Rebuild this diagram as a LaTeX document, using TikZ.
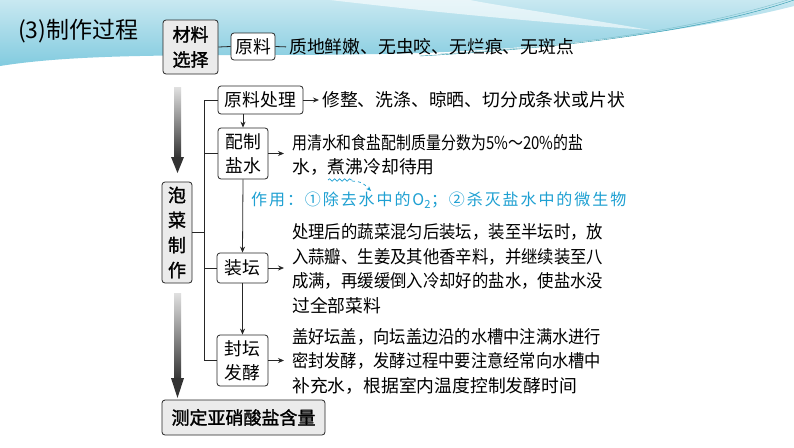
\documentclass[tikz,border=0pt]{standalone}
\usepackage{fontspec}
\usepackage{graphicx}
\usetikzlibrary{positioning,arrows.meta,decorations.pathmorphing}
\setmainfont{Noto Sans CJK SC}
\newfontfamily\boxfont{Noto Sans CJK SC}[FakeBold=1.5]
\newfontfamily\notefont{Noto Sans CJK SC}[LetterSpace=12]
\definecolor{notecol}{RGB}{30,160,210}
\definecolor{skytop}{RGB}{200,232,241}
\definecolor{skybot}{RGB}{130,203,223}
\definecolor{seaLine}{RGB}{40,150,170}
\newcommand\fline[2]{\resizebox{#1}{\height}{#2}}

\tikzset{
  headbox/.style={draw=black!85, fill=black!8, rounded corners=3pt, line width=0.8pt,
    inner sep=0pt, align=center, font=\boxfont\fontsize{18}{25}\selectfont},
  stagebox/.style={draw=black!85, fill=white, rounded corners=3pt, line width=0.8pt,
    inner sep=0pt, align=center, font=\fontsize{17.8}{24}\selectfont},
  desc/.style={anchor=west, inner sep=0pt, align=left, font=\fontsize{17.8}{24.5}\selectfont},
  note/.style={anchor=west, inner sep=0pt, text=notecol, font=\notefont\fontsize{16}{16}\selectfont},
  link/.style={line width=0.8pt, black!85},
  arr/.style={link, -{Stealth[length=6pt,width=5pt]}},
  bigarrow/.style={top color=black!12, bottom color=black!80},
}

\begin{document}
\begin{tikzpicture}[x=1pt,y=-1pt]
	\useasboundingbox (0,0) rectangle (794,447);
	\fill[white] (0,0) rectangle (794,447);

	% Header band
	\shade[top color=skytop, bottom color=skybot] (0,0) -- (794,0) -- (794,6)
		.. controls (700,30) and (560,48) .. (420,53)
		.. controls (250,58) and (100,50) .. (0,66) -- cycle;
	\fill[white, opacity=0.6] (330,0) .. controls (450,14) and (560,24) .. (650,30)
		.. controls (570,16) and (500,6) .. (470,0) -- cycle;
	\draw[seaLine, thin] (420,56) .. controls (600,46) and (720,25) .. (794,0);
	\draw[seaLine!60, thin] (440,54) .. controls (610,44) and (720,22) .. (794,-2);

	% Title
	\node[anchor=west, inner sep=0pt, font=\fontsize{23}{23}\selectfont] (title) at (18,31) {(3)制作过程};

	% Boxes
	\node[headbox, minimum width=55, minimum height=54] (mat) at (190.5,47) {材料\\选择};
	\node[stagebox, minimum width=44, minimum height=27] (yuan) at (253,46.5) {原料};
	\node[headbox, minimum width=30, minimum height=101] (pc) at (177,232.5) {泡\\菜\\制\\作};
	\node[stagebox, minimum width=85, minimum height=28] (yl) at (260.5,100) {原料处理};
	\node[stagebox, minimum width=50, minimum height=51] (ps) at (243,153.5) {配制\\盐水};
	\node[stagebox, minimum width=51, minimum height=30] (zt) at (242.5,268) {装坛};
	\node[stagebox, minimum width=51, minimum height=51] (ft) at (242.5,360.5) {封坛\\发酵};
	\node[headbox, minimum width=163, minimum height=35] (cd) at (243.5,417.5) {测定亚硝酸盐含量};

	% Texts
	\node[desc] (yuantxt) at (289,47) {质地鲜嫩、无虫咬、无烂痕、无斑点};
	\node[desc] (yltxt) at (322,100) {修整、洗涤、晾晒、切分成条状或片状};
	\node[desc] (pstxt) at (292,155) {\fline{291pt}{用清水和食盐配制质量分数为5\%～20\%的盐}\\水，煮沸冷却待用};
	\node[desc] (zttxt) at (292,268.5) {\fline{311pt}{处理后的蔬菜混匀后装坛，装至半坛时，放}\\
		\fline{311pt}{入蒜瓣、生姜及其他香辛料，并继续装至八}\\
		\fline{311pt}{成满，再缓缓倒入冷却好的盐水，使盐水没}\\过全部菜料};
	\node[desc] (fttxt) at (292,361) {\fline{309pt}{盖好坛盖，向坛盖边沿的水槽中注满水进行}\\
		\fline{309pt}{密封发酵，发酵过程中要注意经常向水槽中}\\补充水，根据室内温度控制发酵时间};
	\node[note] (note) at (251,200) {作用：①除去水中的O\textsubscript{2}；②杀灭盐水中的微生物};

	% Note marks
	\draw[notecol, line width=0.7pt, decorate, decoration={snake, amplitude=1.2pt, segment length=5pt}]
		(328,180) -- (352,180);
	\draw[notecol, line width=0.7pt, dashed, -{Stealth[length=5pt,width=4pt]}]
		(352,181) .. controls (362,182) .. (371,191);

	% Links
	\draw[link] (mat.east) -- (yuan.west);
	\draw[link, shorten >=3pt] (yuan.east) -- (yuantxt.west);
	\draw[link] (yl.west) -- ++(-13,0) coordinate (bus) |- (ft.west);
	\draw[link] (bus |- ps.west) -- (ps.west);
	\draw[link] (bus |- zt.west) -- (zt.west);
	\draw[link] (pc.east) -- (pc.east -| bus);

	% Arrows
	\draw[arr, shorten >=3pt] (yl.east) -- (yltxt.west);
	\draw[arr, shorten >=8pt] (ps.east) -- (ps.east -| pstxt.west);
	\draw[arr, shorten >=8pt] (zt.east) -- (zt.east -| zttxt.west);
	\draw[arr, shorten >=8pt] (ft.east) -- (ft.east -| fttxt.west);
	\draw[arr] (yl.south -| ps.north) -- (ps.north);
	\draw[arr] (ps.south) -- (zt.north);
	\draw[arr] (zt.south) -- (ft.north);

	% Big arrows
	\shade[bigarrow] (174,87) rectangle (181,158);
	\fill[black!80] (171,157) -- (184,157) -- (177.5,173) -- cycle;
	\shade[bigarrow] (174,293) rectangle (181,380);
	\fill[black!80] (171,378) -- (184,378) -- (177.5,398) -- cycle;
\end{tikzpicture}
\end{document}
